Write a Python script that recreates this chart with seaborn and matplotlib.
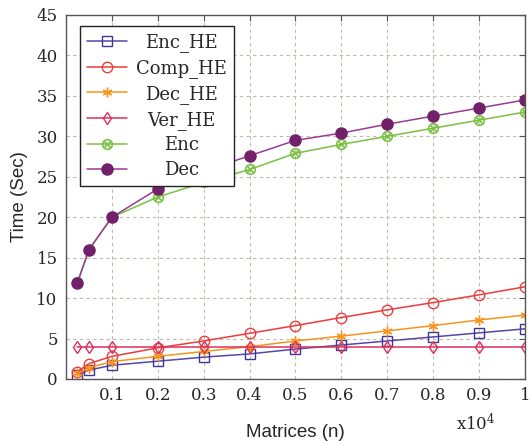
import numpy as np
import pandas as pd
import seaborn as sns
import matplotlib.pyplot as plt

# matrix sizes (x 10^4) and timings
n = [0.025, 0.05, 0.1, 0.2, 0.3, 0.4, 0.5, 0.6, 0.7, 0.8, 0.9, 1.0]
enc_he = [0.55, 1.1, 1.7, 2.2, 2.7, 3.1, 3.7, 4.2, 4.7, 5.2, 5.7, 6.2]
comp_he = [0.9, 1.9, 2.8, 3.85, 4.7, 5.65, 6.6, 7.6, 8.55, 9.45, 10.4, 11.4]
dec_he = [0.7, 1.4, 2.15, 2.8, 3.4, 4.0, 4.7, 5.3, 5.95, 6.6, 7.3, 7.9]
ver_he = [4.0, 4.0, 4.0, 4.0, 4.0, 4.0, 4.0, 4.0, 4.0, 4.0, 4.0, 4.0]
enc = [12, 16, 20, 22.5, 24.3, 25.9, 27.9, 29.0, 30.0, 31.0, 32.0, 33.0]
dec = [11.9, 16, 20, 23.5, 25.7, 27.6, 29.5, 30.4, 31.5, 32.5, 33.5, 34.5]

series = {"Enc_HE": enc_he, "Comp_HE": comp_he, "Dec_HE": dec_he,
          "Ver_HE": ver_he, "Enc": enc, "Dec": dec}
df = pd.concat([pd.DataFrame({"n": n, "time": v, "series": k}) for k, v in series.items()])

sns.set_theme(style="white")
plt.rcParams["font.family"] = ["DejaVu Serif"]
plt.rcParams["mathtext.fontset"] = "dejavuserif"

# line colour, marker, marker face, marker edge, marker size, edge width
styles = {
    "Enc_HE": ("#5548a8", "s", "none", "#3f3596", 7, 1.0),
    "Comp_HE": ("#ee3b3b", "o", "none", "#ee3b3b", 7.5, 1.0),
    "Dec_HE": ("#f7941e", (6, 2, 0), "none", "#f7941e", 7, 1.0),
    "Ver_HE": ("#dc2f5a", "d", "none", "#dc2f5a", 6, 1.0),
    "Enc": ("#7ac143", r"$\otimes$", "#7ac143", "#7ac143", 8, 0.2),
    "Dec": ("#9a3b93", "o", "#72206a", "#72206a", 8, 1.0),
}

fig = plt.figure(figsize=(5.29, 4.41), dpi=100)
ax = fig.add_axes([0.1248, 0.1406, 0.8676, 0.8254])

for name in series:
    col, mk, mfc, mec, ms, mew = styles[name]
    sns.lineplot(data=df[df["series"] == name], x="n", y="time", ax=ax,
                 color=col, marker=mk, markerfacecolor=mfc, markeredgecolor=mec,
                 markersize=ms, markeredgewidth=mew, linewidth=1.1,
                 estimator=None, sort=False, label=name)

ax.set_xlim(0, 1)
ax.set_ylim(0, 45)
ax.set_xticks([0.1, 0.2, 0.3, 0.4, 0.5, 0.6, 0.7, 0.8, 0.9, 1.0])
ax.set_xticklabels(["0.1", "0.2", "0.3", "0.4", "0.5", "0.6", "0.7", "0.8", "0.9", "1"])
ax.set_yticks(np.arange(0, 50, 5))
ax.tick_params(direction="in", top=True, right=True, length=4, width=0.8,
               color="#555555", labelsize=12, pad=6)
ax.grid(True, linestyle=(0, (3, 3)), color="#c0b8b0", linewidth=0.8)
for s in ax.spines.values():
    s.set_color("#555555")
    s.set_linewidth(1.0)

ax.set_xlabel("Matrices (n)", family="Liberation Sans", fontsize=13.5, labelpad=14)
ax.set_ylabel("Time (Sec)", family="Liberation Sans", fontsize=13.5, labelpad=6)
ax.text(0.893, -0.121, r"x10$^4$", transform=ax.transAxes, fontsize=12,
        ha="center", va="center")

leg = ax.legend(loc="upper left", bbox_to_anchor=(0.0305, 0.97), borderaxespad=0,
                fontsize=13, frameon=True, fancybox=False, framealpha=1,
                edgecolor="#222222", handlelength=2.2, handletextpad=0.5,
                labelspacing=0.38, borderpad=0.4)
leg.get_frame().set_linewidth(1.0)

# centre the labels inside the legend column
fig.canvas.draw()
r = fig.canvas.get_renderer()
widths = [t.get_window_extent(r).width for t in leg.get_texts()]
wmax = max(widths)
for t, w in zip(leg.get_texts(), widths):
    t.set_position(((wmax - w) / 2, 0))

fig.savefig("out.png", dpi=100)
